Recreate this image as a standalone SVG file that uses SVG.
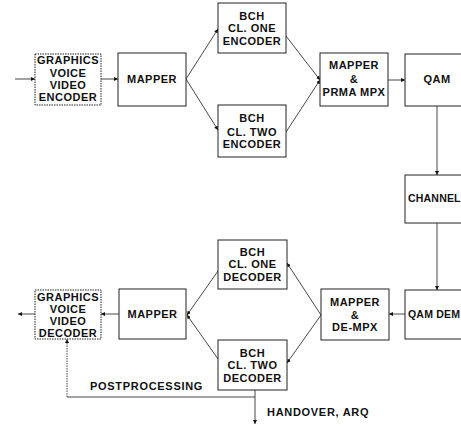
<svg xmlns="http://www.w3.org/2000/svg" width="461" height="426" viewBox="0 0 461 426">
<style>
.box{fill:#fff;stroke:#222;stroke-width:1}
.dot{fill:#fff;stroke:#222;stroke-width:1;stroke-dasharray:1.5 1}
.t{font-family:"Liberation Sans",Arial,sans-serif;font-weight:bold;font-size:11px;letter-spacing:0.5px;fill:#111;text-anchor:middle}
.l{font-family:"Liberation Sans",Arial,sans-serif;font-weight:bold;font-size:11px;letter-spacing:0.7px;fill:#111}
.e{font-family:"Liberation Sans",Arial,sans-serif;font-weight:bold;font-size:10.5px;letter-spacing:0.2px;fill:#111}
.c{fill:none;stroke:#333;stroke-width:0.9}
.cd{fill:none;stroke:#333;stroke-width:0.9;stroke-dasharray:1.5 1}
</style>
<defs>
<marker id="ah" viewBox="0 0 6 6" refX="6" refY="3" markerWidth="4" markerHeight="4" markerUnits="userSpaceOnUse" orient="auto">
<path d="M0,0 L6,3 L0,6 z" fill="#111"/>
</marker>
</defs>
<rect width="461" height="426" fill="#fff"/>
<g id="connectors">
<line class="c" x1="15" y1="79" x2="35" y2="79" marker-end="url(#ah)"/>
<line class="c" x1="101" y1="79" x2="118" y2="79" marker-end="url(#ah)"/>
<line class="c" x1="186" y1="79" x2="218" y2="29" marker-end="url(#ah)"/>
<line class="c" x1="186" y1="79" x2="218" y2="130" marker-end="url(#ah)"/>
<line class="c" x1="286" y1="36" x2="320" y2="80" marker-end="url(#ah)"/>
<line class="c" x1="286" y1="132" x2="320" y2="80" marker-end="url(#ah)"/>
<line class="c" x1="388" y1="80" x2="405" y2="80" marker-end="url(#ah)"/>
<line class="c" x1="437" y1="106" x2="437" y2="175" marker-end="url(#ah)"/>
<line class="c" x1="437" y1="223" x2="437" y2="290" marker-end="url(#ah)"/>
<line class="c" x1="405" y1="314" x2="389" y2="314" marker-end="url(#ah)"/>
<line class="c" x1="321" y1="315" x2="287" y2="263" marker-end="url(#ah)"/>
<line class="c" x1="321" y1="315" x2="287" y2="363" marker-end="url(#ah)"/>
<line class="c" x1="218" y1="271" x2="187" y2="315" marker-end="url(#ah)"/>
<line class="c" x1="218" y1="359" x2="187" y2="315" marker-end="url(#ah)"/>
<line class="c" x1="119" y1="314" x2="101" y2="314" marker-end="url(#ah)"/>
<line class="c" x1="35" y1="314" x2="18" y2="314" marker-end="url(#ah)"/>
<polyline class="c" points="255,397 67,397"/>
<line class="cd" x1="67" y1="397" x2="67" y2="339" marker-end="url(#ah)"/>
<line class="c" x1="255" y1="390" x2="255" y2="424" marker-end="url(#ah)"/>
</g>
<g id="gvv-encoder">
<rect class="dot" x="35" y="54" width="66" height="51"/>
<text class="t" x="68" y="64">GRAPHICS</text>
<text class="t" x="68" y="76.5">VOICE</text>
<text class="t" x="68" y="88.5">VIDEO</text>
<text class="t" x="68" y="101">ENCODER</text>
</g>
<g id="mapper-tx">
<rect class="box" x="118" y="53" width="68" height="53"/>
<text class="t" x="152" y="83">MAPPER</text>
</g>
<g id="bch-one-enc">
<rect class="box" x="218" y="3" width="68" height="50"/>
<text class="t" x="252" y="19.5">BCH</text>
<text class="t" x="252" y="32">CL. ONE</text>
<text class="t" x="252" y="45">ENCODER</text>
</g>
<g id="bch-two-enc">
<rect class="box" x="218" y="105" width="68" height="52"/>
<text class="t" x="252" y="122">BCH</text>
<text class="t" x="252" y="135.5">CL. TWO</text>
<text class="t" x="252" y="148">ENCODER</text>
</g>
<g id="mapper-prma">
<rect class="box" x="320" y="53" width="68" height="53"/>
<text class="t" x="354" y="69">MAPPER</text>
<text class="t" x="354" y="83">&amp;</text>
<text class="t" x="354" y="95.5">PRMA MPX</text>
</g>
<g id="qam">
<rect class="box" x="405" y="54" width="66" height="52"/>
<text class="t" x="437" y="83">QAM</text>
</g>
<g id="channel">
<rect class="box" x="405" y="175" width="66" height="48"/>
<text class="e" x="408" y="202">CHANNEL</text>
</g>
<g id="qam-dem">
<rect class="box" x="405" y="290" width="66" height="49"/>
<text class="e" x="408" y="318">QAM DEM</text>
</g>
<g id="mapper-demux">
<rect class="box" x="321" y="289" width="68" height="51"/>
<text class="t" x="355" y="306">MAPPER</text>
<text class="t" x="355" y="318.5">&amp;</text>
<text class="t" x="355" y="331">DE-MPX</text>
</g>
<g id="bch-one-dec">
<rect class="box" x="218" y="240" width="69" height="49"/>
<text class="t" x="252.5" y="255.5">BCH</text>
<text class="t" x="252.5" y="268">CL. ONE</text>
<text class="t" x="252.5" y="281">DECODER</text>
</g>
<g id="bch-two-dec">
<rect class="box" x="218" y="340" width="69" height="50"/>
<text class="t" x="252.5" y="357">BCH</text>
<text class="t" x="252.5" y="369">CL. TWO</text>
<text class="t" x="252.5" y="381.5">DECODER</text>
</g>
<g id="mapper-rx">
<rect class="box" x="119" y="289" width="67" height="50"/>
<text class="t" x="152.5" y="317.5">MAPPER</text>
</g>
<g id="gvv-decoder">
<rect class="dot" x="35" y="290" width="66" height="49"/>
<text class="t" x="68" y="300.5">GRAPHICS</text>
<text class="t" x="68" y="313">VOICE</text>
<text class="t" x="68" y="325">VIDEO</text>
<text class="t" x="68" y="337">DECODER</text>
</g>
<g id="labels">
<text class="l" x="90" y="390">POSTPROCESSING</text>
<text class="l" x="267" y="416">HANDOVER, ARQ</text>
</g>
</svg>
